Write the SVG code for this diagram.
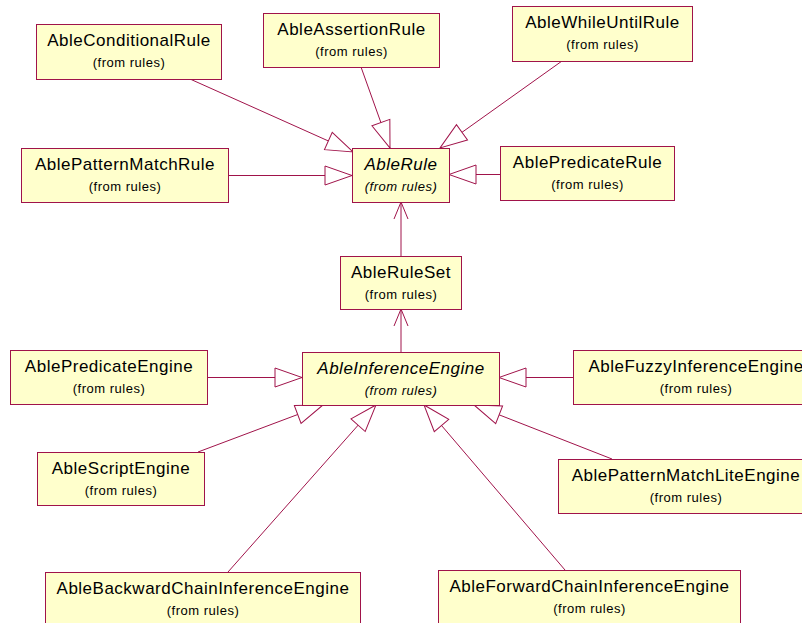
<svg xmlns="http://www.w3.org/2000/svg" width="802" height="623" viewBox="0 0 802 623">
  <style>
    .box { fill: #FFFFCC; stroke: #A0134A; stroke-width: 1; }
    .name { font-family: "Liberation Sans", Arial, sans-serif; font-size: 17px; letter-spacing: 0.5px; fill: #000; text-anchor: middle; }
    .pkg { font-family: "Liberation Sans", Arial, sans-serif; font-size: 13px; letter-spacing: 0.5px; fill: #000; text-anchor: middle; }
    .abstract { font-style: italic; }
    .gen { fill: none; stroke: #A0134A; stroke-width: 1; marker-end: url(#triangle); }
    .nav { fill: none; stroke: #A0134A; stroke-width: 1; marker-end: url(#open); }
  </style>
  <defs>
    <marker id="triangle" markerUnits="userSpaceOnUse" markerWidth="30" markerHeight="22" refX="28" refY="11" orient="auto">
      <path d="M1,1.5 L28,11 L1,20.5 Z" fill="#FFFFFF" stroke="#A0134A" stroke-width="1"/>
    </marker>
    <marker id="open" markerUnits="userSpaceOnUse" markerWidth="20" markerHeight="16" refX="18" refY="8" orient="auto">
      <path d="M1,1 L18,8 L1,15" fill="none" stroke="#A0134A" stroke-width="1"/>
    </marker>
  </defs>

  <g id="connectors">
    <line class="gen" x1="190" y1="79" x2="353" y2="152"/>
    <line class="gen" x1="361" y1="67" x2="390" y2="148"/>
    <line class="gen" x1="562" y1="61" x2="440" y2="148"/>
    <line class="gen" x1="228" y1="175.5" x2="352" y2="175.5"/>
    <line class="gen" x1="500" y1="174.5" x2="449" y2="174.5"/>
    <line class="nav" x1="401" y1="256" x2="401" y2="202"/>
    <line class="nav" x1="401" y1="352" x2="401" y2="309"/>
    <line class="gen" x1="207" y1="377.5" x2="302" y2="377.5"/>
    <line class="gen" x1="573" y1="377.5" x2="499" y2="377.5"/>
    <line class="gen" x1="198" y1="452" x2="323" y2="405"/>
    <line class="gen" x1="228" y1="572" x2="376" y2="405"/>
    <line class="gen" x1="565" y1="570" x2="424" y2="405"/>
    <line class="gen" x1="612" y1="459" x2="474" y2="405"/>
  </g>

  <g id="AbleConditionalRule">
    <rect class="box" x="36.5" y="24.5" width="185" height="55"/>
    <text class="name" x="129" y="46">AbleConditionalRule</text>
    <text class="pkg" x="129" y="67">(from rules)</text>
  </g>
  <g id="AbleAssertionRule">
    <rect class="box" x="263.5" y="13.5" width="176" height="54"/>
    <text class="name" x="351.5" y="35">AbleAssertionRule</text>
    <text class="pkg" x="351.5" y="56">(from rules)</text>
  </g>
  <g id="AbleWhileUntilRule">
    <rect class="box" x="512.5" y="6.5" width="180" height="55"/>
    <text class="name" x="602.5" y="28">AbleWhileUntilRule</text>
    <text class="pkg" x="602.5" y="49">(from rules)</text>
  </g>
  <g id="AblePatternMatchRule">
    <rect class="box" x="21.5" y="148.5" width="207" height="54"/>
    <text class="name" x="125" y="170">AblePatternMatchRule</text>
    <text class="pkg" x="125" y="191">(from rules)</text>
  </g>
  <g id="AbleRule">
    <rect class="box" x="352.5" y="148.5" width="97" height="54"/>
    <text class="name abstract" x="401" y="170">AbleRule</text>
    <text class="pkg abstract" x="401" y="191">(from rules)</text>
  </g>
  <g id="AblePredicateRule">
    <rect class="box" x="500.5" y="146.5" width="174" height="54"/>
    <text class="name" x="587.5" y="168">AblePredicateRule</text>
    <text class="pkg" x="587.5" y="189">(from rules)</text>
  </g>
  <g id="AbleRuleSet">
    <rect class="box" x="340.5" y="256.5" width="121" height="53"/>
    <text class="name" x="401" y="278">AbleRuleSet</text>
    <text class="pkg" x="401" y="299">(from rules)</text>
  </g>
  <g id="AbleInferenceEngine">
    <rect class="box" x="302.5" y="352.5" width="197" height="53"/>
    <text class="name abstract" x="401" y="374">AbleInferenceEngine</text>
    <text class="pkg abstract" x="401" y="395">(from rules)</text>
  </g>
  <g id="AblePredicateEngine">
    <rect class="box" x="10.5" y="350.5" width="197" height="54"/>
    <text class="name" x="109" y="372">AblePredicateEngine</text>
    <text class="pkg" x="109" y="393">(from rules)</text>
  </g>
  <g id="AbleFuzzyInferenceEngine">
    <rect class="box" x="573.5" y="350.5" width="246" height="54"/>
    <text class="name" x="696" y="372">AbleFuzzyInferenceEngine</text>
    <text class="pkg" x="696" y="393">(from rules)</text>
  </g>
  <g id="AbleScriptEngine">
    <rect class="box" x="37.5" y="452.5" width="167" height="53"/>
    <text class="name" x="121" y="474">AbleScriptEngine</text>
    <text class="pkg" x="121" y="495">(from rules)</text>
  </g>
  <g id="AblePatternMatchLiteEngine">
    <rect class="box" x="558.5" y="459.5" width="256" height="54"/>
    <text class="name" x="686" y="481">AblePatternMatchLiteEngine</text>
    <text class="pkg" x="686" y="502">(from rules)</text>
  </g>
  <g id="AbleBackwardChainInferenceEngine">
    <rect class="box" x="45.5" y="572.5" width="315" height="55"/>
    <text class="name" x="203" y="594">AbleBackwardChainInferenceEngine</text>
    <text class="pkg" x="203" y="615">(from rules)</text>
  </g>
  <g id="AbleForwardChainInferenceEngine">
    <rect class="box" x="438.5" y="570.5" width="302" height="55"/>
    <text class="name" x="589.5" y="592">AbleForwardChainInferenceEngine</text>
    <text class="pkg" x="589.5" y="613">(from rules)</text>
  </g>
</svg>
